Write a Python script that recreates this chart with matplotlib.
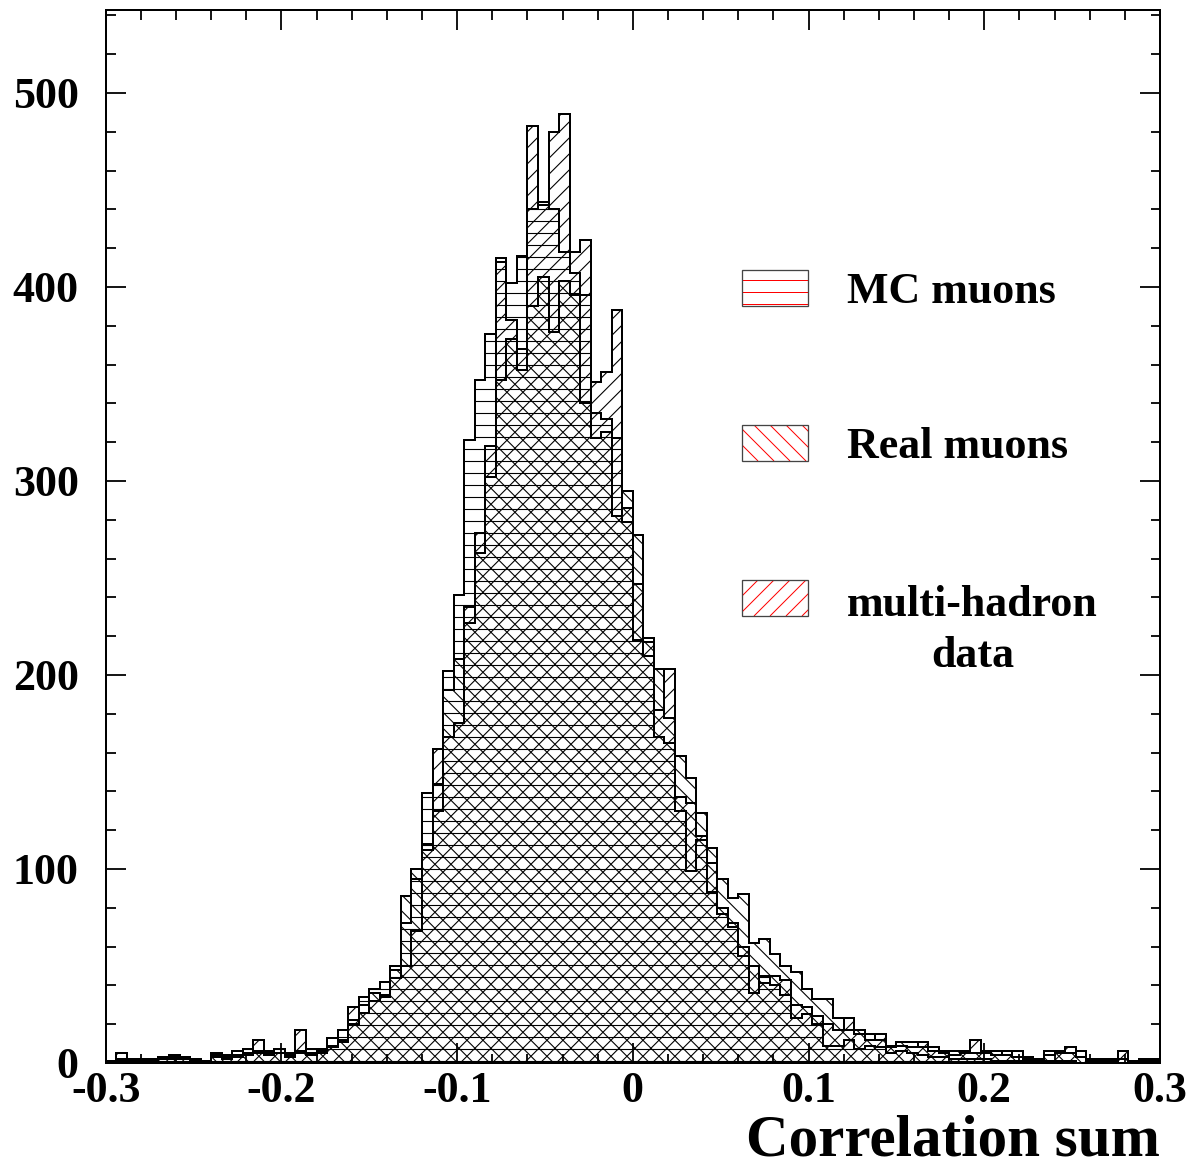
import numpy as np
import matplotlib
matplotlib.use("Agg")
import matplotlib.pyplot as plt
from matplotlib.collections import LineCollection
from matplotlib.patches import Rectangle
from matplotlib.transforms import IdentityTransform
from matplotlib.ticker import MultipleLocator, FixedLocator, FixedFormatter

# ---- data: 100 bins of width 0.006 between -0.3 and 0.3 ----
bin_edges = np.linspace(-0.3, 0.3, 101)

mc_muons = [
    1, 2, 2, 1, 2, 3, 3, 3, 2, 1,
    5, 4, 4, 7, 6, 6, 7, 5, 6, 7,
    7, 13, 17, 22, 34, 38, 42, 50, 72, 95,
    139, 144, 202, 241, 321, 352, 376, 415, 402, 416,
    440, 444, 440, 418, 407, 396, 335, 332, 322, 279,
    218, 210, 168, 165, 130, 99, 115, 88, 80, 70,
    55, 36, 45, 40, 35, 23, 25, 20, 9, 9,
    12, 7, 9, 8, 5, 6, 5, 4, 3, 3,
    2, 2, 2, 2, 1, 1, 1, 1, 1, 1,
    1, 1, 0, 0, 0, 0, 0, 0, 0, 0,
]

real_muons = [
    0, 1, 1, 1, 1, 2, 2, 2, 1, 0,
    3, 2, 3, 4, 5, 4, 5, 4, 5, 5,
    5, 8, 12, 20, 30, 36, 35, 48, 86, 100,
    113, 130, 192, 208, 227, 263, 302, 352, 373, 357,
    390, 405, 377, 403, 396, 340, 322, 325, 282, 295,
    272, 219, 203, 178, 158, 147, 129, 111, 95, 85,
    87, 62, 64, 56, 50, 47, 38, 33, 33, 23,
    17, 17, 15, 12, 9, 11, 11, 8, 8, 6,
    6, 6, 5, 6, 6, 4, 6, 3, 2, 6,
    6, 5, 6, 2, 2, 2, 2, 1, 2, 2,
]

multi_hadron = [
    1, 5, 1, 2, 1, 2, 4, 2, 2, 0,
    4, 3, 6, 5, 12, 5, 5, 3, 17, 4,
    6, 9, 11, 29, 26, 32, 34, 44, 50, 68,
    110, 162, 168, 175, 235, 273, 318, 413, 383, 368,
    483, 442, 480, 489, 418, 424, 351, 356, 388, 286,
    247, 217, 182, 203, 137, 134, 117, 103, 77, 72,
    60, 50, 41, 45, 43, 30, 29, 24, 20, 17,
    23, 15, 12, 15, 8, 9, 8, 11, 6, 5,
    4, 5, 12, 5, 4, 6, 3, 2, 1, 4,
    5, 8, 3, 1, 1, 1, 6, 0, 1, 1,
]

legend_labels = ["MC muons", "Real muons", "multi-hadron\ndata"]
x_ticks = [-0.3, -0.2, -0.1, 0.0, 0.1, 0.2, 0.3]
x_tick_labels = ["-0.3", "-0.2", "-0.1", "0", "0.1", "0.2", "0.3"]
y_ticks = [0, 100, 200, 300, 400, 500]
y_tick_labels = ["0", "100", "200", "300", "400", "500"]
x_title = "Correlation sum"

# ---- figure geometry (pixels, dpi 72 so 1 pt == 1 px) ----
W, H, DPI = 1194, 1165, 72
FONT = "Liberation Serif"
plt.rcParams["axes.unicode_minus"] = False

fig = plt.figure(figsize=(W / DPI, H / DPI), dpi=DPI, facecolor="white")
ax_l, ax_r, ax_t, ax_b = 105.7, 1160.0, 9.5, 1063.0
ax = fig.add_axes([ax_l / W, 1 - ax_b / H, (ax_r - ax_l) / W, (ax_b - ax_t) / H])
ax.set_xlim(-0.3, 0.3)
ax.set_ylim(0, 543)


def fig_px(x, y):
    """Pixel position measured from the top-left corner -> figure fraction."""
    return x / W, 1 - y / H


def hatch_lines(bbox, kind, spacing):
    """Segments (display pixels) covering bbox with a given hatch style."""
    x0, y0, x1, y1 = bbox
    h = y1 - y0
    segs = []
    if kind == "-":
        for y in np.arange(y0 + 2, y1, spacing):
            segs.append([(x0, y), (x1, y)])
    elif kind == "/":
        for c in np.arange(x0 - h, x1 + spacing, spacing):
            segs.append([(c, y0), (c + h, y1)])
    else:  # "\\"
        for c in np.arange(x0, x1 + h + spacing, spacing):
            segs.append([(c, y0), (c - h, y1)])
    return segs


def add_hatch(clip_patch, kind, color, bbox, lw=1.1, z=1):
    spacing = 12.0 if kind == "-" else 16.0
    lc = LineCollection(hatch_lines(bbox, kind, spacing), colors=color,
                        linewidths=lw, transform=IdentityTransform(), zorder=z)
    ax.add_collection(lc, autolim=False)
    lc.set_clip_path(clip_patch)


axes_bbox = ax.bbox.extents  # display pixels
series = [(mc_muons, "-"), (real_muons, "\\"), (multi_hadron, "/")]

for values, kind in series:
    region = ax.stairs(values, bin_edges, fill=True, facecolor="none",
                       edgecolor="none", linewidth=0, zorder=0)
    add_hatch(region, kind, "black", axes_bbox)

for values, kind in series:
    outline = ax.stairs(values, bin_edges, color="black", linewidth=2.0,
                        zorder=3)
    outline.set_joinstyle("miter")

# ---- legend drawn as boxes with red hatching ----
box_x, box_w, box_h = 742, 66, 36
box_tops = [270, 425, 580]
text_anchor_y = [303, 458, 667]   # baseline of the last line of each label
for label, (values, kind), top, base in zip(legend_labels, series, box_tops,
                                             text_anchor_y):
    fx, fy = fig_px(box_x, top + box_h)
    fw, fh = box_w / W, box_h / H
    clip = Rectangle((fx, fy), fw, fh, transform=fig.transFigure,
                     facecolor="white", edgecolor="none", zorder=4)
    ax.add_patch(clip)
    bx0, by0 = fx * W, fy * H
    add_hatch(clip, kind, "red", (bx0, by0, bx0 + box_w, by0 + box_h),
              lw=1.0, z=5)
    ax.add_patch(Rectangle((fx, fy), fw, fh, transform=fig.transFigure,
                           fill=False, edgecolor="#444444", linewidth=1.3,
                           zorder=6))
    tx, ty = fig_px(847, base)
    fig.text(tx, ty, label, fontsize=44, fontweight="bold", family=FONT,
             ha="left", va="baseline", multialignment="center",
             linespacing=1.37)

# ---- axes styling ----
for sp in ax.spines.values():
    sp.set_linewidth(2.0)
    sp.set_zorder(7)

ax.xaxis.set_major_locator(FixedLocator(x_ticks))
ax.xaxis.set_major_formatter(FixedFormatter(x_tick_labels))
ax.xaxis.set_minor_locator(MultipleLocator(0.02))
ax.yaxis.set_major_locator(FixedLocator(y_ticks))
ax.yaxis.set_major_formatter(FixedFormatter(y_tick_labels))
ax.yaxis.set_minor_locator(MultipleLocator(20))

ax.tick_params(which="both", direction="in", top=True, right=True,
               width=1.8, color="black")
ax.tick_params(which="major", length=20)
ax.tick_params(which="minor", length=9.5)
ax.tick_params(axis="x", which="major", pad=8)
ax.tick_params(axis="y", which="major", pad=27)
for lab in ax.get_xticklabels() + ax.get_yticklabels():
    lab.set_fontsize(44)
    lab.set_fontweight("bold")
    lab.set_family(FONT)

tx, ty = fig_px(1160, 1155)
fig.text(tx, ty, x_title, fontsize=59, fontweight="bold", family=FONT,
         ha="right", va="baseline")

fig.savefig("out.png", dpi=DPI, facecolor="white")
